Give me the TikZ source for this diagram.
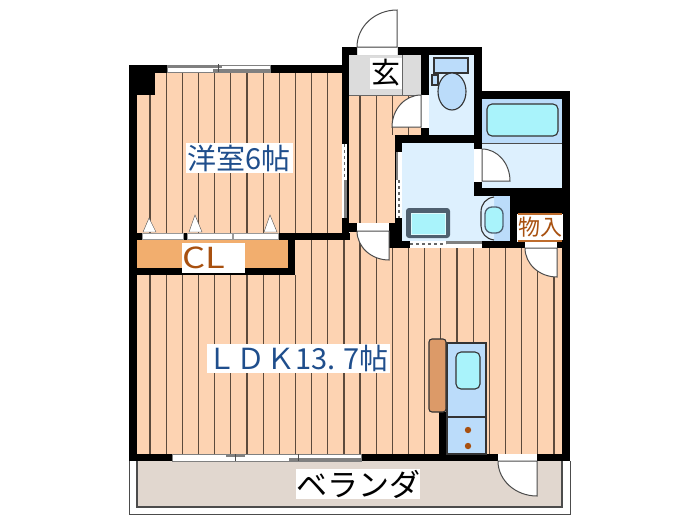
\documentclass[tikz,border=0pt]{standalone}
\usepackage{fontspec}
\setmainfont{Noto Sans CJK JP}
\definecolor{floorc}{HTML}{FDD3B2}
\definecolor{stripec}{HTML}{5C4A3C}
\definecolor{clc}{HTML}{F2AE6E}
\definecolor{wetc}{HTML}{DDF0FE}
\definecolor{unitc}{HTML}{BBDCFA}
\definecolor{waterc}{HTML}{A9F3FB}
\definecolor{genkanc}{HTML}{DCDCDC}
\definecolor{verandac}{HTML}{E1D7CF}
\definecolor{woodc}{HTML}{DC9A68}
\definecolor{brownc}{HTML}{A8500F}
\definecolor{bluec}{HTML}{1F4E8C}
\definecolor{slatec}{HTML}{4F6070}
\tikzset{
  x=1pt,y=-1pt,
  wall/.style={fill=black},
  stripe/.style={stripec,line width=1.2pt},
  doorleaf/.style={draw=black!70,fill=white,line width=1pt},
  label/.style={fill=white,inner sep=0pt,font=\fontsize{29}{29}\selectfont},
  outline/.style={draw=black!80,line width=1.1pt},
}
\begin{document}
\begin{tikzpicture}
    \useasboundingbox (0,0) rectangle (700,525);
    \fill[color=floorc] (137,73) rectangle (342,233);
    \fill[color=floorc] (137,275) rectangle (562,454);
    \fill[color=floorc] (295,240) rectangle (395,275);
    \fill[color=floorc] (350,232) rectangle (395,240);
    \fill[color=floorc] (395,248) rectangle (562,275);
    \fill[color=floorc] (349,95) rectangle (421,135);
    \fill[color=floorc] (349,135) rectangle (395,223);
    \foreach \k in {0,...,11} \draw[stripe] ({150+16.16*\k},73) -- ({150+16.16*\k},233);
    \foreach \k in {0,...,25} \draw[stripe] ({150+16.16*\k},275) -- ({150+16.16*\k},454);
    \foreach \k in {10,...,15} \draw[stripe] ({150+16.16*\k},240) -- ({150+16.16*\k},275);
    \foreach \k in {16,...,25} \draw[stripe] ({150+16.16*\k},248) -- ({150+16.16*\k},275);
    \foreach \k in {13,...,16} \draw[stripe] ({150+16.16*\k},95) -- ({150+16.16*\k},135);
    \foreach \k in {13,14} \draw[stripe] ({150+16.16*\k},135) -- ({150+16.16*\k},223);
    \fill[color=clc] (137,240) rectangle (288,268);
    \fill[color=genkanc] (349,55) rectangle (421,95);
    \draw[black!60,line width=1pt] (349,95) -- (421,95) (402,55) -- (402,95);
    \fill[color=wetc] (429,55) rectangle (474,135);
    \fill[color=wetc] (402,143) rectangle (510,241);
    \fill[color=wetc] (482,143) rectangle (562,188);
    \fill[color=unitc] (482,99) rectangle (562,143);
    \draw[black!70,line width=1pt] (482,143) -- (562,143);
    \fill[color=unitc] (494,196) rectangle (510,241);
    \fill[color=verandac] (137,461) rectangle (562,507);
    \draw[black!70,line width=1.4pt] (137,461) -- (137,507) -- (562,507) -- (562,461);
    \draw[black!70,line width=1pt] (129,461) -- (129,514) -- (570,514) -- (570,461);
    \fill[wall] (129,65) rectangle (137,461);
    \fill[wall] (129,65) rectangle (342,73);
    \fill[wall] (129,65) rectangle (155,95);
    \fill[wall] (342,47) rectangle (349,233);
    \fill[wall] (342,47) rectangle (482,55);
    \fill[wall] (421,55) rectangle (429,143);
    \fill[wall] (474,47) rectangle (482,196);
    \fill[wall] (482,91) rectangle (570,99);
    \fill[wall] (562,91) rectangle (570,461);
    \fill[wall] (395,135) rectangle (482,143);
    \fill[wall] (395,135) rectangle (402,248);
    \fill[wall] (474,188) rectangle (562,196);
    \fill[wall] (510,188) rectangle (570,214);
    \fill[wall] (510,188) rectangle (517,248);
    \fill[wall] (389,241) rectangle (517,248);
    \fill[wall] (517,242) rectangle (570,248);
    \fill[wall] (349,223) rectangle (357,232);
    \fill[wall] (389,223) rectangle (402,248);
    \fill[wall] (137,233) rectangle (350,240);
    \fill[wall] (288,233) rectangle (295,275);
    \fill[wall] (129,268) rectangle (295,275);
    \fill[wall] (129,454) rectangle (570,461);
    \fill[wall] (439,412) rectangle (447,454);
    \draw[white!85!black,fill=white] (357,47) rectangle (397,55);
    \draw[doorleaf] (397,47) -- (397,10) arc[start angle=-90,end angle=-180,x radius=40,y radius=37] -- cycle;
    \fill[color=white] (421,95) rectangle (429,128);
    \draw[doorleaf] (421,127) -- (392,127) arc[start angle=180,end angle=270,x radius=29,y radius=32] -- cycle;
    \fill[color=white] (474,149) rectangle (482,182);
    \draw[doorleaf] (482,149) arc[start angle=-90,end angle=0,x radius=28,y radius=32] -- (482,181) -- cycle;
    \fill[color=white] (357,225) rectangle (389,233);
    \draw[doorleaf] (357,231) -- (389,231) -- (389,260) arc[start angle=90,end angle=180,x radius=32,y radius=29] -- cycle;
    \fill[color=white] (525,242) rectangle (557,248);
    \draw[doorleaf] (525,248) -- (557,248) -- (557,277) arc[start angle=90,end angle=180,x radius=32,y radius=29] -- cycle;
    \fill[color=white] (498,454) rectangle (537,461);
    \draw[doorleaf] (498,461) -- (537,461) -- (537,496) arc[start angle=90,end angle=180,x radius=39,y radius=35] -- cycle;
    \draw[black!50,fill=white] (167,65) rectangle (270,72);
    \fill[color=black!50] (167,65) rectangle (222,67.5);
    \fill[color=black!50] (213,69) rectangle (270,72);
    \draw[black!70] (218,64) -- (218,72);
    \draw[black!50,fill=white] (172,454) rectangle (361,461);
    \fill[color=black!50] (226,454) rectangle (245,457);
    \fill[color=black!50] (289,458) rectangle (361,461);
    \draw[black!70] (235,454) -- (235,461) (298,454) -- (298,461);
    \fill[color=white] (342,144) rectangle (347,218);
    \draw[black!60,dashed,line width=1.5pt] (344.5,144) -- (344.5,180);
    \fill[color=black!50] (344,180) rectangle (347,218);
    \fill[color=white] (396,152) rectangle (402,218);
    \fill[color=black!50] (396,152) rectangle (398,180);
    \draw[black!60,dashed,line width=1.5pt] (399,180) -- (399,218);
    \fill[color=white] (410,241) rectangle (482,248);
    \draw[black!60,dashed,line width=1.5pt] (410,244) -- (446,244);
    \fill[color=black!50] (446,241) rectangle (482,243.5);
    \foreach \a/\b in {142/183,187/232,233/278} \draw[fill=white,draw=black!40] (\a,233) rectangle (\b,239);
    \foreach \a/\t in {149/218,195/215,270/215} \draw[fill=white,draw=black!70] (\a-6,232) -- (\a,\t) -- (\a+7,232) -- cycle;
    \draw[outline,fill=unitc] (434,58) rectangle (468,73);
    \draw[outline,fill=unitc] (432,75) rectangle (438,85);
    \draw[outline,fill=unitc] (452,91.5) ellipse[x radius=14,y radius=18.5];
    \draw[outline,fill=waterc,rounded corners=5pt] (487,104) rectangle (558,136);
    \fill[color=slatec,rounded corners=3pt] (406,208) rectangle (450,238);
    \draw[fill=waterc,draw=white!60!waterc,line width=1pt] (411,213) rectangle (445,234);
    \draw[outline,fill=wetc] (494,197) .. controls (486,198) and (481,204) .. (481,212) -- (481,226) .. controls (481,233) and (486,239) .. (494,240);
    \draw[slatec,fill=waterc,line width=1.3pt,rounded corners=7pt] (485,207) rectangle (503,233);
    \draw[outline,fill=unitc] (447,343) rectangle (486,454);
    \draw[outline] (447,417) -- (486,417);
    \draw[outline,fill=waterc,rounded corners=5pt] (456,352) rectangle (480,389);
    \draw[outline,fill=woodc,rounded corners=3pt] (429,339) rectangle (446,412);
    \foreach \y in {430,446} \fill[color=brownc] (468,\y) circle (3.2);
    \node[label,text=bluec,minimum width=107,minimum height=30] (yoshitsu) at (239,158) {洋室6帖};
    \node[label,minimum width=32,minimum height=31] (genkan) at (386,73) {玄};
    \node[label,text=brownc,minimum width=61,minimum height=30] (cl) at (213.5,258) {\scalebox{1.25}[1]{CL}\rule{20pt}{0pt}};
    \node[label,text=brownc,font=\fontsize{22}{22}\selectfont,minimum width=46,minimum height=26] (monoire) at (540,227) {物入};
    \draw[brownc!70!clc,line width=1.5pt] (518,214) -- (562,214) (518,241) -- (562,241);
    \node[label,text=bluec,minimum width=183,minimum height=29] (ldk) at (298.5,358.5) {ＬＤＫ13. 7帖};
    \node[label,font=\fontsize{31}{31}\selectfont,minimum width=124,minimum height=30] (veranda) at (358,484) {ベランダ};
\end{tikzpicture}
\end{document}
